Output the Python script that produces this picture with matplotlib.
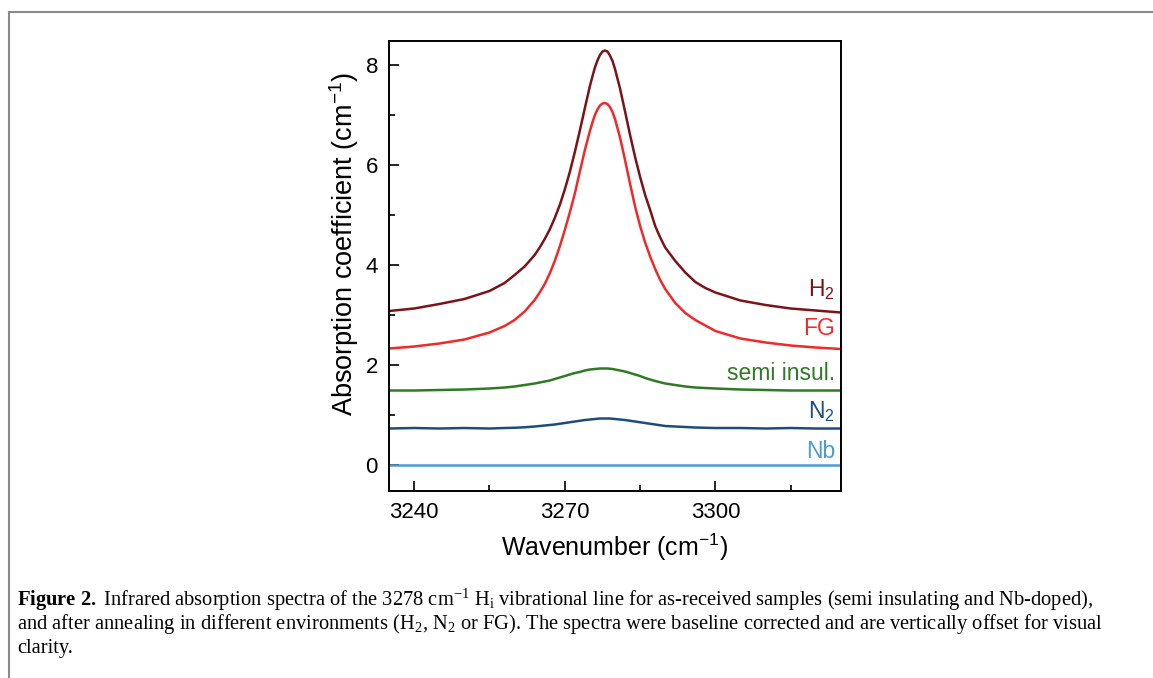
import matplotlib
matplotlib.use("Agg")
import matplotlib.pyplot as plt
from matplotlib.ticker import MultipleLocator

plt.rcParams["font.family"] = ["Liberation Sans", "DejaVu Sans"]
plt.rcParams["mathtext.fontset"] = "custom"
plt.rcParams["mathtext.rm"] = "Liberation Serif"
plt.rcParams["mathtext.it"] = "Liberation Serif:italic"
plt.rcParams["mathtext.bf"] = "Liberation Serif:bold"
plt.rcParams["mathtext.sf"] = "Liberation Sans"

wavenumber = [3235, 3240, 3245, 3250, 3255, 3258, 3260, 3262, 3264, 3265,
              3266, 3267, 3268, 3269, 3270, 3271, 3272, 3273, 3274, 3275,
              3275.5, 3276, 3276.5, 3277, 3277.5, 3278, 3278.5, 3279, 3279.5, 3280,
              3281, 3282, 3283, 3284, 3285, 3286, 3287, 3288, 3289, 3290,
              3292, 3294, 3296, 3298, 3300, 3305, 3310, 3315, 3320, 3325]

h2 = [3.08, 3.13, 3.22, 3.32, 3.48, 3.64, 3.80, 3.97, 4.20, 4.35,
      4.52, 4.71, 4.94, 5.20, 5.51, 5.86, 6.26, 6.69, 7.14, 7.58,
      7.77, 7.95, 8.09, 8.20, 8.27, 8.29, 8.27, 8.19, 8.08, 7.92,
      7.53, 7.07, 6.60, 6.16, 5.76, 5.40, 5.10, 4.78, 4.55, 4.35,
      4.08, 3.85, 3.66, 3.54, 3.45, 3.29, 3.20, 3.13, 3.09, 3.05]
fg = [2.33, 2.37, 2.43, 2.51, 2.65, 2.78, 2.90, 3.07, 3.30, 3.45,
      3.62, 3.83, 4.08, 4.37, 4.70, 5.05, 5.43, 5.87, 6.30, 6.68,
      6.85, 7.00, 7.11, 7.19, 7.23, 7.24, 7.22, 7.16, 7.06, 6.92,
      6.55, 6.10, 5.62, 5.17, 4.78, 4.45, 4.17, 3.92, 3.70, 3.52,
      3.24, 3.04, 2.90, 2.79, 2.68, 2.53, 2.45, 2.39, 2.35, 2.32]
semi_insul = [1.49, 1.49, 1.50, 1.51, 1.53, 1.55, 1.57, 1.60, 1.63, 1.65,
              1.67, 1.69, 1.72, 1.75, 1.78, 1.81, 1.84, 1.86, 1.89, 1.91,
              1.915, 1.92, 1.925, 1.93, 1.93, 1.93, 1.93, 1.925, 1.92, 1.91,
              1.89, 1.87, 1.84, 1.81, 1.78, 1.74, 1.71, 1.68, 1.655, 1.63,
              1.60, 1.57, 1.55, 1.54, 1.53, 1.51, 1.50, 1.49, 1.49, 1.49]
n2 = [0.73, 0.74, 0.73, 0.74, 0.73, 0.74, 0.745, 0.755, 0.77, 0.78,
      0.79, 0.80, 0.81, 0.825, 0.84, 0.855, 0.87, 0.885, 0.90, 0.91,
      0.915, 0.92, 0.925, 0.93, 0.93, 0.93, 0.93, 0.93, 0.925, 0.92,
      0.91, 0.90, 0.885, 0.87, 0.855, 0.84, 0.825, 0.81, 0.795, 0.78,
      0.77, 0.76, 0.75, 0.745, 0.74, 0.74, 0.73, 0.74, 0.73, 0.73]
nb = [0.0] * len(wavenumber)

series = [
    (h2, "#7a1418", r"H$\mathsf{_2}$", 3.37),
    (fg, "#ee2a2a", "FG", 2.60),
    (semi_insul, "#2f7a25", "semi insul.", 1.70),
    (n2, "#1f4d7a", r"N$\mathsf{_2}$", 0.94),
    (nb, "#4b9bd5", "Nb", 0.15),
]

caption = [
    r"$\mathbf{Figure\ 2.}$ Infrared absorption spectra of the 3278 cm$^{-1}$ "
    r"H$_{\mathrm{i}}$ vibrational line for as-received samples (semi insulating and Nb-doped),",
    r"and after annealing in different environments (H$_2$, N$_2$ or FG). "
    r"The spectra were baseline corrected and are vertically offset for visual",
    "clarity.",
]

fig = plt.figure(figsize=(11.53, 6.78), dpi=100)
ax = fig.add_axes([0.3374, 0.2758, 0.392, 0.6637])

for y, color, label, ytxt in series:
    ax.plot(wavenumber, y, color=color, linewidth=1.8)
    ax.text(3323.8, ytxt, label, color=color, fontsize=16.5,
            ha="right", va="baseline")

ax.set_xlim(3235, 3325)
ax.set_ylim(-0.52, 8.48)
ax.xaxis.set_major_locator(MultipleLocator(30))
ax.xaxis.set_minor_locator(MultipleLocator(15))
ax.yaxis.set_major_locator(MultipleLocator(2))
ax.yaxis.set_minor_locator(MultipleLocator(1))
ax.tick_params(which="both", direction="in", width=1.2, labelsize=16, pad=8)
ax.tick_params(which="major", length=7)
ax.tick_params(which="minor", length=4)
for sp in ax.spines.values():
    sp.set_linewidth(1.4)

ax.set_xlabel(r"Wavenumber (cm$\mathsf{^{-1}}$)", fontsize=18, labelpad=6)
ax.set_ylabel(r"Absorption coefficient (cm$\mathsf{^{-1}}$)", fontsize=19.5)
ax.yaxis.set_label_coords(-0.062, 0.55)

# page frame around the figure
fig.add_artist(plt.Line2D([9 / 1153, 1], [1 - 12 / 678] * 2, color="#8a8a8a", lw=1.5))
fig.add_artist(plt.Line2D([9 / 1153] * 2, [0, 1 - 12 / 678], color="#8a8a8a", lw=1.5))

for i, line in enumerate(caption):
    fig.text(17 / 1153, 1 - (600 + 24 * i) / 678, line, fontsize=14.8,
             family="Liberation Serif", va="center", ha="left")

fig.savefig("out.png", dpi=100)
